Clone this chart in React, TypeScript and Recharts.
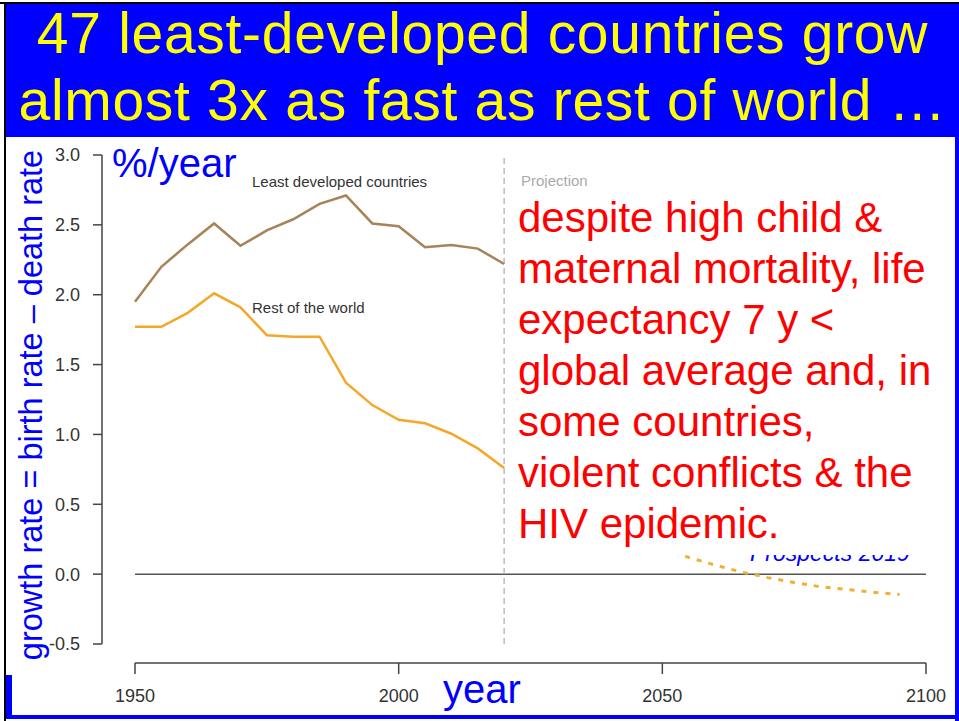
import React from "react"
import { LineChart, Line, XAxis, YAxis, ReferenceLine } from "recharts"

const years = [1950, 1955, 1960, 1965, 1970, 1975, 1980, 1985, 1990, 1995, 2000, 2005, 2010, 2015, 2020]
const leastDeveloped = [1.95, 2.2, 2.36, 2.51, 2.35, 2.46, 2.54, 2.65, 2.71, 2.51, 2.49, 2.34, 2.355, 2.33, 2.22]
const restOfWorld = [1.77, 1.77, 1.87, 2.01, 1.91, 1.71, 1.7, 1.7, 1.37, 1.21, 1.105, 1.08, 1.005, 0.9, 0.76]

const projectionYears = [2050, 2055, 2060, 2065, 2070, 2075, 2080, 2085, 2090, 2095]
const restOfWorldProjection = [0.18, 0.12, 0.065, 0.015, -0.025, -0.06, -0.09, -0.11, -0.13, -0.145]

const xTicks = [1950, 2000, 2050, 2100]
const yTicks = [-0.5, 0, 0.5, 1, 1.5, 2, 2.5, 3]

// axis lines sit apart from the data range, R style
const xMin = 1943.74
const yMin = -0.636

const rows = [
  ...years.map((year, i) => ({ year, ldc: leastDeveloped[i], rest: restOfWorld[i] })),
  ...projectionYears.map((year, i) => ({ year, restProj: restOfWorldProjection[i] })),
]

const font = '"Liberation Sans", Arial, sans-serif'
const blue = "#0000ff"

const abs = (left: number, top: number, extra: React.CSSProperties = {}): React.CSSProperties => ({
  position: "absolute",
  left,
  top,
  whiteSpace: "nowrap",
  lineHeight: 1,
  fontFamily: font,
  ...extra,
})

const titleLine = (top: number): React.CSSProperties => ({
  position: "absolute",
  left: 6,
  top,
  width: 953,
  textAlign: "center",
  color: "#ffff00",
  fontFamily: font,
  fontSize: 57,
  letterSpacing: 0.7,
  lineHeight: "60px",
  whiteSpace: "nowrap",
})

export default function App() {
  return (
    <div style={{ position: "relative", width: 959, height: 721, background: "#fff", overflow: "hidden" }}>
      <style>{"body{margin:0}"}</style>

      <LineChart
        width={959}
        height={721}
        data={rows}
        margin={{ top: 155, right: 33, bottom: 18, left: 42 }}
        style={{ position: "absolute", left: 0, top: 0 }}
      >
        <XAxis
          type="number"
          dataKey="year"
          domain={[xMin, 2100]}
          ticks={xTicks}
          height={40}
          axisLine={false}
          tickSize={11}
          tickMargin={15}
          tickLine={{ stroke: "#444", strokeWidth: 1.5 }}
          tick={{ fill: "#333", fontSize: 18, fontFamily: font }}
        />
        <YAxis
          type="number"
          domain={[yMin, 3]}
          ticks={yTicks}
          width={60}
          axisLine={false}
          tickSize={9}
          tickMargin={13}
          tickLine={{ stroke: "#444", strokeWidth: 1.5 }}
          tick={{ fill: "#333", fontSize: 18, fontFamily: font }}
          tickFormatter={(v: number) => v.toFixed(1)}
        />
        <ReferenceLine segment={[{ x: xMin, y: -0.5 }, { x: xMin, y: 3 }]} stroke="#444" strokeWidth={1.5} ifOverflow="visible" />
        <ReferenceLine segment={[{ x: 1950, y: yMin }, { x: 2100, y: yMin }]} stroke="#444" strokeWidth={1.5} ifOverflow="visible" />
        <ReferenceLine segment={[{ x: 1950, y: 0 }, { x: 2100, y: 0 }]} stroke="#555" strokeWidth={1.5} />
        <ReferenceLine segment={[{ x: 2020, y: -0.5 }, { x: 2020, y: 3 }]} stroke="#bbb" strokeWidth={1.5} strokeDasharray="6 4" />
        <Line dataKey="ldc" stroke="#a68358" strokeWidth={2.5} dot={false} isAnimationActive={false} />
        <Line dataKey="rest" stroke="#f4a82a" strokeWidth={2.5} dot={false} isAnimationActive={false} />
        <Line dataKey="restProj" stroke="#f0b035" strokeWidth={3} strokeDasharray="5 7" dot={false} isAnimationActive={false} />
      </LineChart>

      {/* slide frame + title */}
      <div style={{ position: "absolute", left: 0, top: 2, width: 959, height: 2, background: "#000" }} />
      <div style={{ position: "absolute", left: 4, top: 2, width: 2, height: 719, background: "#000" }} />
      <div style={{ position: "absolute", left: 6, top: 4, width: 953, height: 133, background: blue }} />
      <div style={{ position: "absolute", left: 955, top: 137, width: 4, height: 584, background: blue }} />
      <div style={{ position: "absolute", left: 6, top: 715, width: 953, height: 4, background: blue }} />
      <div style={{ position: "absolute", left: 6, top: 675, width: 6, height: 40, background: blue }} />
      <div style={titleLine(2.5)}>47 least-developed countries grow</div>
      <div style={titleLine(69.5)}>almost 3x as fast as rest of world …</div>

      <div style={abs(112, 143, { fontSize: 40, color: blue })}>%/year</div>
      <div style={abs(443, 669, { fontSize: 40, color: blue })}>year</div>
      <div
        style={abs(31, 405, {
          fontSize: 32.5,
          color: blue,
          transform: "translate(-50%, -50%) rotate(-90deg)",
        })}
      >
        growth rate = birth rate – death rate
      </div>

      <div style={abs(252, 174, { fontSize: 15, color: "#333" })}>Least developed countries</div>
      <div style={abs(252, 300, { fontSize: 15, color: "#333" })}>Rest of the world</div>
      <div style={abs(521, 173, { fontSize: 15, color: "#aaa" })}>Projection</div>
      <div style={abs(750, 542, { fontSize: 23, color: blue, fontStyle: "italic" })}>Prospects 2019</div>

      <div
        style={{
          position: "absolute",
          left: 508,
          top: 188,
          width: 440,
          height: 367,
          background: "#fff",
          color: "#ff0000",
          fontFamily: font,
          fontSize: 42,
          lineHeight: "51px",
          paddingLeft: 10,
          paddingTop: 4,
          boxSizing: "border-box",
          whiteSpace: "nowrap",
        }}
      >
        despite high child &amp;
        <br />
        maternal mortality, life
        <br />
        expectancy 7 y &lt;
        <br />
        global average and, in
        <br />
        some countries,
        <br />
        violent conflicts &amp; the
        <br />
        HIV epidemic.
      </div>
    </div>
  )
}
